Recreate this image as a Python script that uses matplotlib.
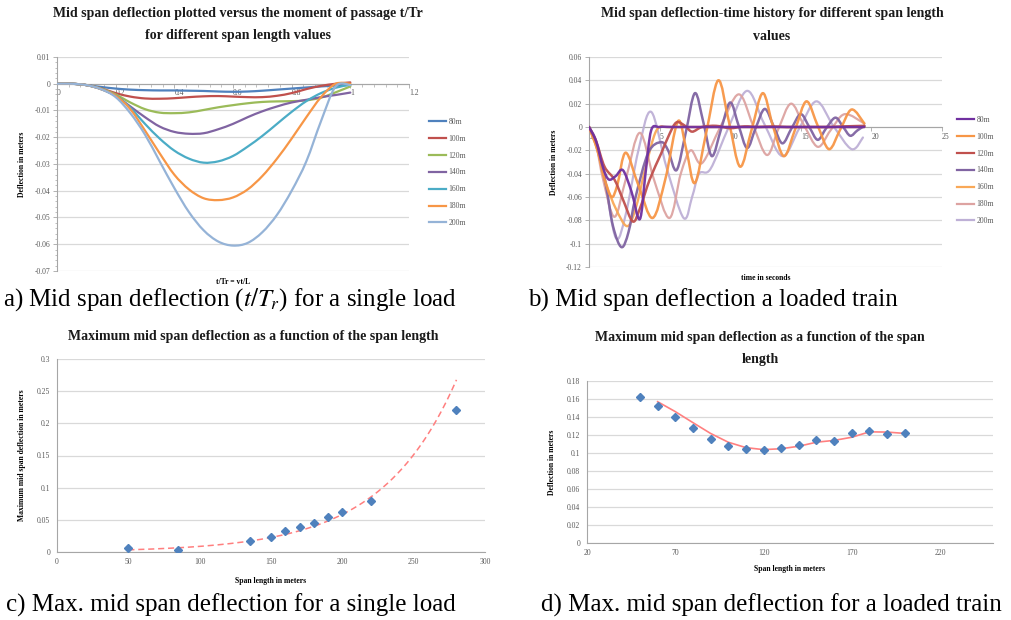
import matplotlib
matplotlib.use('Agg')
import matplotlib.pyplot as plt
from matplotlib.path import Path
from matplotlib.patches import PathPatch
from matplotlib.lines import Line2D
from matplotlib.ticker import MultipleLocator, FuncFormatter, AutoMinorLocator
import numpy as np

plt.rcParams['font.family'] = ['Liberation Serif', 'DejaVu Serif']
plt.rcParams['axes.unicode_minus'] = False
plt.rcParams['mathtext.fontset'] = 'stix'

# ---------------- data: panel a ----------------
span_labels = ['80m', '100m', '120m', '140m', '160m', '180m', '200m']
t_ratio = [0.0, 0.05, 0.1, 0.15, 0.2, 0.25, 0.3, 0.35, 0.4, 0.45, 0.5,
           0.55, 0.6, 0.65, 0.7, 0.75, 0.8, 0.85, 0.9, 0.95, 1.0]
a_80 = [0, 0, -0.0005, -0.0012, -0.0018, -0.0022, -0.0024, -0.0025, -0.0025, -0.0026, -0.0027,
        -0.0029, -0.003, -0.0029, -0.0026, -0.0022, -0.0018, -0.0014, -0.001, -0.0007, -0.0005]
a_100 = [0, 0, -0.0005, -0.0017, -0.0035, -0.0048, -0.0055, -0.0056, -0.0054, -0.005, -0.0047,
         -0.0046, -0.0048, -0.005, -0.005, -0.0045, -0.0035, -0.002, -0.0008, 0.0, 0.0005]
a_120 = [0, 0, -0.0005, -0.0018, -0.004, -0.007, -0.0095, -0.0108, -0.011, -0.0107, -0.0098,
         -0.0088, -0.008, -0.0073, -0.0068, -0.0066, -0.0065, -0.0062, -0.0052, -0.0032, -0.001]
a_140 = [0, 0, -0.0005, -0.002, -0.0045, -0.0085, -0.0125, -0.016, -0.018, -0.0187, -0.0185,
         -0.017, -0.015, -0.0125, -0.0103, -0.0085, -0.007, -0.006, -0.005, -0.0042, -0.0033]
a_160 = [0, 0, -0.0005, -0.002, -0.0045, -0.009, -0.015, -0.0205, -0.025, -0.028, -0.0295,
         -0.029, -0.027, -0.0235, -0.0195, -0.015, -0.0105, -0.0065, -0.0035, -0.0015, -0.0003]
a_180 = [0, 0, -0.0005, -0.002, -0.0045, -0.0095, -0.0175, -0.026, -0.034, -0.0395, -0.0428,
         -0.0435, -0.0425, -0.0395, -0.0345, -0.028, -0.0205, -0.0125, -0.005, 0.0, 0.0]
a_200 = [0, 0, -0.0005, -0.002, -0.005, -0.011, -0.019, -0.029, -0.039, -0.048, -0.0548,
         -0.059, -0.0605, -0.0595, -0.0555, -0.049, -0.04, -0.029, -0.014, -0.001, -0.0005]

# ---------------- data: panel b ----------------
b80_t = [0, 0.5, 1.0, 1.4, 1.9, 2.4, 3.0, 3.6, 4.0, 4.4, 5, 6, 8, 10, 12, 14, 16, 18, 19.5]
b80_v = [0, -0.012, -0.035, -0.045, -0.042, -0.037, -0.055, -0.079, -0.04, -0.003,
         0, 0, 0, 0, 0, 0, 0, 0, 0]
b100_t = [0, 0.6, 1.1, 1.6, 2.0, 2.6, 3.5, 4.5, 5.4, 6.3, 6.9, 7.5, 8.3, 9.15, 9.9, 10.7,
          11.5, 12.3, 13.0, 13.8, 14.6, 15.4, 16.2, 17.0, 17.8, 18.6, 19.5]
b100_v = [0, -0.02, -0.045, -0.06, -0.05, -0.022, -0.05, -0.078, -0.045, 0.005, -0.02, -0.048,
          -0.005, 0.040, 0.005, -0.034, -0.003, 0.029, 0.002, -0.025, -0.002, 0.022, 0.001,
          -0.019, -0.002, 0.015, 0.003]
b120_t = [0, 0.5, 1.1, 1.8, 2.4, 3.1, 3.6, 4.3, 5.1, 5.7, 6.2, 6.8, 7.3, 8, 9, 10, 11, 12,
          13, 14, 15, 16, 17, 18, 19.5]
b120_v = [0, -0.012, -0.034, -0.045, -0.062, -0.081, -0.07, -0.045, -0.023, -0.006, 0.004,
          0.001, -0.004, 0, 0.001, -0.001, 0.0005, 0, 0.0005, 0, 0, 0, 0, 0.0005, 0.001]
b140_t = [0, 0.6, 1.2, 1.7, 2.3, 2.8, 3.3, 4.2, 5.1, 5.6, 6.2, 6.85, 7.5, 8.1, 8.7, 9.35,
          10.0, 10.6, 11.2, 11.8, 12.45, 13.1, 13.7, 14.35, 15.0, 15.6, 16.2, 16.8, 17.45,
          18.0, 18.5, 19.0, 19.5]
b140_v = [0, -0.018, -0.05, -0.085, -0.103, -0.09, -0.06, -0.022, -0.013, -0.02, -0.037,
          -0.005, 0.029, 0.004, -0.025, -0.002, 0.021, 0.001, -0.018, -0.001, 0.0155, 0.0,
          -0.014, -0.001, 0.011, 0.0, -0.011, -0.001, 0.008, 0.0, -0.0075, -0.003, 0.001]
b160_t = [0, 0.6, 1.2, 1.9, 2.7, 3.3, 4.0, 4.6, 5.0, 5.5, 7, 9, 11, 13, 15, 17, 19.5]
b160_v = [0, -0.02, -0.048, -0.07, -0.085, -0.07, -0.035, -0.008, 0, 0, 0, 0, 0, 0, 0, 0, 0]
b180_t = [0, 0.5, 1.0, 1.8, 2.6, 3.6, 4.6, 5.7, 6.5, 7.2, 8.0, 9.3, 10.6, 11.6, 12.6, 13.4,
          14.3, 15.2, 16.2, 17.1, 18.1, 19.5]
b180_v = [0, -0.015, -0.045, -0.077, -0.045, -0.005, -0.045, -0.078, -0.04, -0.02, -0.031,
          0.0, 0.028, 0.002, -0.024, -0.002, 0.020, 0.002, -0.017, -0.003, 0.011, 0.003]
b200_t = [0, 0.5, 1.1, 1.9, 2.6, 3.5, 4.4, 5.5, 6.7, 7.3, 7.8, 8.6, 9.9, 11.2, 12.4, 13.7,
          14.9, 16.1, 17.3, 18.6, 19.4]
b200_v = [0, -0.012, -0.045, -0.095, -0.075, -0.02, 0.013, -0.035, -0.078, -0.06, -0.04,
          -0.036, 0.0, 0.031, 0.003, -0.025, -0.001, 0.022, 0.001, -0.019, -0.009]

# ---------------- data: panel c ----------------
c_span = [50, 85, 135, 150, 160, 170, 180, 190, 200, 220, 280]
c_defl = [0.0055, 0.0025, 0.0175, 0.024, 0.033, 0.039, 0.045, 0.054, 0.062, 0.080, 0.221]

# ---------------- data: panel d ----------------
d_span = [50, 60, 70, 80, 90, 100, 110, 120, 130, 140, 150, 160, 170, 180, 190, 200]
d_defl = [0.162, 0.152, 0.140, 0.1275, 0.116, 0.108, 0.104, 0.1035, 0.106, 0.109, 0.115,
          0.113, 0.122, 0.125, 0.1215, 0.122]

colors_a = ['#4F81BD', '#C0504D', '#9BBB59', '#8064A2', '#4BACC6', '#F79646', '#95B3D7']
colors_b = ['#7030A0', '#F79646', '#C0504D', '#8064A2', '#F9A857', '#DDA3A1', '#BEB0D6']

W, H = 1011, 620
fig = plt.figure(figsize=(W / 100, H / 100), dpi=100)
fig.patch.set_facecolor('white')

GRID = '#D9D9D9'
AXC = '#A6A6A6'
TXT = '#595959'


def fmt_num(v, p=None):
    if abs(v) < 1e-12:
        return '0'
    return f'{v:g}'


def smooth_path(xs, ys):
    xs = np.asarray(xs, float)
    ys = np.asarray(ys, float)
    n = len(xs)
    verts = [(xs[0], ys[0])]
    codes = [Path.MOVETO]
    for i in range(n - 1):
        i0 = max(i - 1, 0)
        i3 = min(i + 2, n - 1)
        c1 = (xs[i] + (xs[i + 1] - xs[i0]) / 6.0, ys[i] + (ys[i + 1] - ys[i0]) / 6.0)
        c2 = (xs[i + 1] - (xs[i3] - xs[i]) / 6.0, ys[i + 1] - (ys[i3] - ys[i]) / 6.0)
        verts += [c1, c2, (xs[i + 1], ys[i + 1])]
        codes += [Path.CURVE4] * 3
    return Path(verts, codes)


def add_axes_px(left, top, right, bottom):
    return fig.add_axes([left / W, 1 - bottom / H, (right - left) / W, (bottom - top) / H])


def base_style(ax):
    for s in ['top', 'right']:
        ax.spines[s].set_visible(False)
    for s in ['left', 'bottom']:
        ax.spines[s].set_color(AXC)
        ax.spines[s].set_linewidth(0.8)
    ax.yaxis.grid(True, color=GRID, lw=0.9)
    ax.set_axisbelow(True)
    ax.tick_params(axis='both', which='both', labelsize=5.5, colors=AXC, labelcolor=TXT,
                   width=0.6, length=3, pad=2)
    ax.xaxis.set_major_formatter(FuncFormatter(fmt_num))
    ax.yaxis.set_major_formatter(FuncFormatter(fmt_num))


leg_kw = dict(bbox_transform=fig.transFigure, frameon=False, fontsize=5.5,
              handlelength=2.3, handletextpad=0.3, labelspacing=1.16, labelcolor=TXT,
              loc='upper left')

# ---------------- panel a ----------------
axA = add_axes_px(57, 57, 409, 271)
base_style(axA)
axA.set_xlim(0, 1.2)
axA.set_ylim(-0.07, 0.01)
axA.xaxis.set_major_locator(MultipleLocator(0.2))
axA.yaxis.set_major_locator(MultipleLocator(0.01))
axA.xaxis.set_minor_locator(AutoMinorLocator(5))
axA.yaxis.set_minor_locator(AutoMinorLocator(5))
axA.tick_params(which='minor', length=1.8, width=0.5)
axA.spines['bottom'].set_position(('data', 0))
axA.tick_params(axis='x', pad=1)
for lab in axA.get_xticklabels():
    lab.set_horizontalalignment('left')
series_a = [a_80, a_100, a_120, a_140, a_160, a_180, a_200]
for vals, c in zip(series_a, colors_a):
    axA.add_patch(PathPatch(smooth_path(t_ratio, vals), fill=False, edgecolor=c, lw=1.6,
                            capstyle='round', joinstyle='round', zorder=3))
axA.set_ylabel('Deflection in meters', fontsize=5.5, fontweight='bold', labelpad=6)
axA.set_xlabel('t/Tr = vt/L', fontsize=5.5, fontweight='bold', labelpad=2)
axA.xaxis.set_label_coords(0.5, -0.035)
axA.legend([Line2D([], [], color=c, lw=1.6) for c in colors_a], span_labels,
           bbox_to_anchor=(422 / W, 1 - 111 / H), **leg_kw)

# ---------------- panel b ----------------
axB = add_axes_px(589, 57, 942, 267)
base_style(axB)
axB.set_xlim(0, 25)
axB.set_ylim(-0.12, 0.06)
axB.xaxis.set_major_locator(MultipleLocator(5))
axB.yaxis.set_major_locator(MultipleLocator(0.02))
axB.spines['bottom'].set_position(('data', 0))
axB.tick_params(axis='x', pad=1)
for lab in axB.get_xticklabels():
    lab.set_horizontalalignment('left')
series_b = [(b80_t, b80_v), (b100_t, b100_v), (b120_t, b120_v), (b140_t, b140_v),
            (b160_t, b160_v), (b180_t, b180_v), (b200_t, b200_v)]
draw_order = [6, 5, 4, 3, 1, 2, 0]
lw_b = [1.8, 1.8, 1.8, 1.8, 1.7, 1.6, 1.6]
for i in draw_order:
    tt, vv = series_b[i]
    axB.add_patch(PathPatch(smooth_path(tt, vv), fill=False, edgecolor=colors_b[i],
                            lw=lw_b[i], capstyle='round', joinstyle='round', zorder=3,
                            alpha=0.95))
axB.set_ylabel('Deflection in meters', fontsize=5.5, fontweight='bold', labelpad=6)
axB.set_xlabel('time in seconds', fontsize=5.5, fontweight='bold')
axB.xaxis.set_label_coords(0.5, -0.035)
axB.legend([Line2D([], [], color=c, lw=1.6) for c in colors_b], span_labels,
           bbox_to_anchor=(950 / W, 1 - 109 / H), **leg_kw)

# ---------------- panel c ----------------
axC = add_axes_px(57, 359, 485, 552)
base_style(axC)
axC.set_xlim(0, 300)
axC.set_ylim(0, 0.3)
axC.xaxis.set_major_locator(MultipleLocator(50))
axC.yaxis.set_major_locator(MultipleLocator(0.05))
axC.tick_params(axis='x', length=0, pad=4)
axC.tick_params(axis='y', length=0, pad=5)
coef = np.polyfit(np.asarray(c_span, float), np.log(np.asarray(c_defl)), 1)
xs_fit = np.linspace(min(c_span), max(c_span), 200)
axC.plot(xs_fit, np.exp(np.polyval(coef, xs_fit)), color='#FF7F7F', lw=1.1,
         dashes=(4, 2.5), zorder=3)
axC.plot(c_span, c_defl, linestyle='none', marker='D', markersize=3.6,
         color='#4F81BD', zorder=4)
axC.set_ylabel('Maximum mid span deflection in meters', fontsize=5.5, fontweight='bold',
               labelpad=8)
axC.set_xlabel('Span length in meters', fontsize=5.5, fontweight='bold', labelpad=8)

# ---------------- panel d ----------------
axD = add_axes_px(587, 381, 993, 543)
base_style(axD)
axD.set_xlim(20, 250)
axD.set_ylim(0, 0.18)
axD.set_xticks([20, 70, 120, 170, 220])
axD.yaxis.set_major_locator(MultipleLocator(0.02))
axD.tick_params(axis='x', length=0, pad=4)
axD.tick_params(axis='y', length=0, pad=5)
d_arr = np.asarray(d_defl)
axD.plot(d_span[1:], (d_arr[:-1] + d_arr[1:]) / 2, color='#FF8080', lw=1.2, zorder=3)
axD.plot(d_span, d_defl, linestyle='none', marker='D', markersize=3.6,
         color='#4F81BD', zorder=4)
axD.set_ylabel('Deflection in meters', fontsize=5.5, fontweight='bold', labelpad=8)
axD.set_xlabel('Span length in meters', fontsize=5.5, fontweight='bold', labelpad=6)

# ---------------- titles ----------------
tkw = dict(ha='center', va='center', fontsize=10, fontweight='bold', color='#1A1A1A')
fig.text(238 / W, 1 - 14 / H, 'Mid span deflection plotted versus the moment of passage t/Tr', **tkw)
fig.text(238 / W, 1 - 36 / H, 'for different span length values', **tkw)
fig.text(772 / W, 1 - 14 / H, 'Mid span deflection-time history for different span length', **tkw)
fig.text(772 / W, 1 - 36 / H, 'values', **tkw)
fig.text(253 / W, 1 - 336 / H, 'Maximum mid span deflection as a function of the span length', **tkw)
fig.text(760 / W, 1 - 338 / H, 'Maximum mid span deflection as a function of the span', **tkw)
fig.text(760 / W, 1 - 360 / H, 'length', **tkw)

# ---------------- captions ----------------
ckw = dict(ha='left', va='center', fontsize=18, color='black')
fig.text(3 / W, 1 - 300 / H, r'a) Mid span deflection ($t/T_r$) for a single load', **ckw)
fig.text(528 / W, 1 - 300 / H, 'b) Mid span deflection a loaded train', **ckw)
fig.text(6 / W, 1 - 605 / H, 'c) Max. mid span deflection for a single load', **ckw)
fig.text(541 / W, 1 - 605 / H, 'd) Max. mid span deflection for a loaded train', **ckw)

fig.savefig('out.png', dpi=100, facecolor='white')
